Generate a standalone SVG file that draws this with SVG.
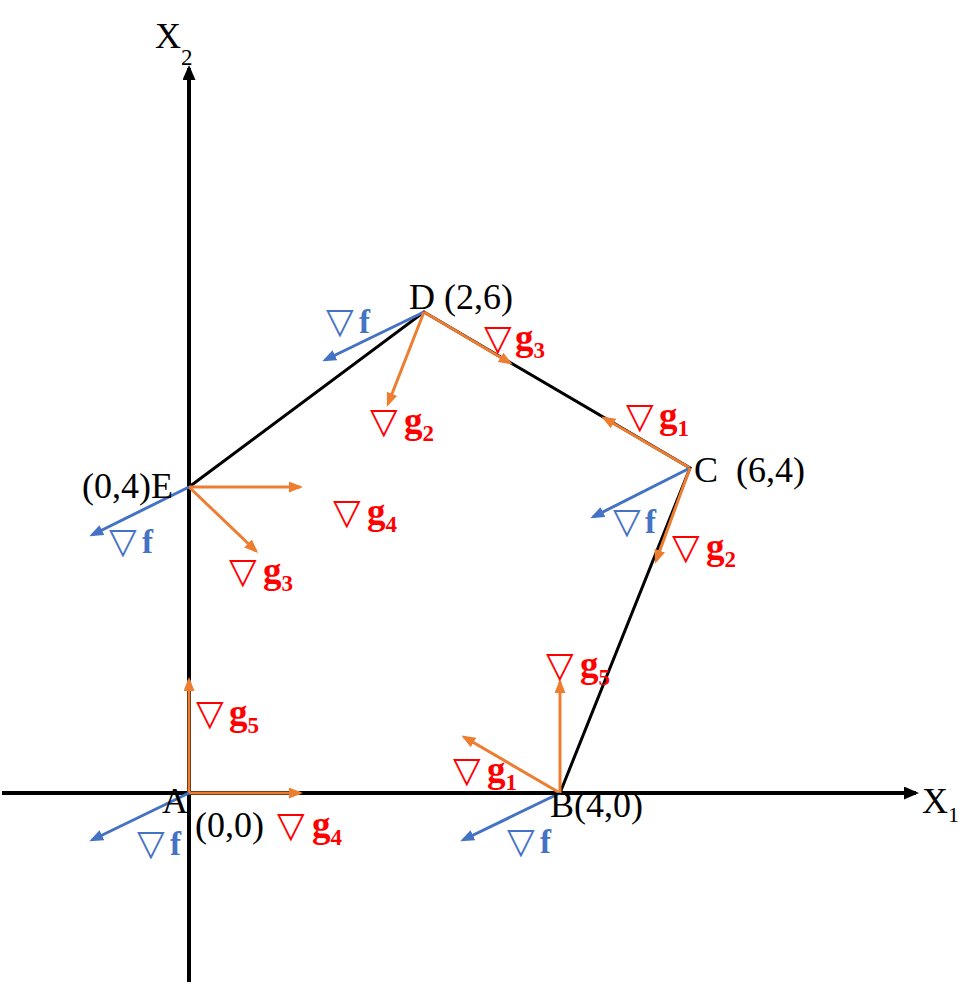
<svg xmlns="http://www.w3.org/2000/svg" width="978" height="986" viewBox="0 0 978 986">
<style>
.ax{stroke:#000;stroke-width:4;fill:none}
.edge{stroke:#000;stroke-width:3;fill:none}
.g{stroke:#ED7D31;stroke-width:3;fill:none;marker-end:url(#mo)}
.f{stroke:#4472C4;stroke-width:3;fill:none;marker-end:url(#mb)}
.t{font-family:"Liberation Serif","Times New Roman",serif;font-size:36px;fill:#000}
.nab{font-family:"DejaVu Sans",sans-serif;font-size:36px}
.lr{fill:#FF0000}
.lb{fill:#4472C4}
.bg{font-family:"Liberation Serif","Times New Roman",serif;font-weight:bold;font-size:37px}
.bf{font-family:"Liberation Serif","Times New Roman",serif;font-weight:bold;font-size:33px}
.sub{font-family:"Liberation Serif","Times New Roman",serif;font-weight:bold;font-size:23px}
</style>
<defs>
<marker id="mo" markerUnits="userSpaceOnUse" markerWidth="15" markerHeight="12" refX="11" refY="5.5" orient="auto"><path d="M0,0 L14,5.5 L0,11 z" fill="#ED7D31"/></marker>
<marker id="mb" markerUnits="userSpaceOnUse" markerWidth="15" markerHeight="12" refX="11" refY="5.5" orient="auto"><path d="M0,0 L14,5.5 L0,11 z" fill="#4472C4"/></marker>
<marker id="mk" markerUnits="userSpaceOnUse" markerWidth="16" markerHeight="14" refX="12" refY="6.5" orient="auto"><path d="M0,0 L15,6.5 L0,13 z" fill="#000"/></marker>
</defs>
<rect width="978" height="986" fill="#fff"/>
<g id="axes">
<line class="ax" x1="189" y1="982" x2="189" y2="68" marker-end="url(#mk)"/>
<line class="ax" x1="2" y1="793" x2="916" y2="793" marker-end="url(#mk)"/>
<text class="t" x="155" y="48" font-size="37">X<tspan font-size="23" dy="17">2</tspan></text>
<text class="t" x="922" y="813" font-size="37">X<tspan font-size="22" dy="9">1</tspan></text>
</g>
<g id="polygon">
<polyline class="edge" points="189,487 424,312 690,468 560,793"/>
</g>
<g id="connectors">
<line class="f" x1="424" y1="312" x2="325" y2="360"/>
<line class="g" x1="424" y1="312" x2="388" y2="404"/>
<line class="g" x1="424" y1="312" x2="510" y2="363"/>
<line class="g" x1="690" y1="468" x2="604" y2="418"/>
<line class="f" x1="690" y1="468" x2="593" y2="517"/>
<line class="g" x1="690" y1="468" x2="656" y2="561"/>
<line class="g" x1="189" y1="487" x2="300" y2="487"/>
<line class="g" x1="189" y1="487" x2="256" y2="551"/>
<line class="f" x1="189" y1="487" x2="92" y2="535"/>
<line class="g" x1="189" y1="793" x2="189" y2="680"/>
<line class="g" x1="189" y1="793" x2="300" y2="793"/>
<line class="f" x1="189" y1="793" x2="92" y2="840"/>
<line class="g" x1="560" y1="793" x2="560" y2="682"/>
<line class="g" x1="560" y1="793" x2="464" y2="737"/>
<line class="f" x1="560" y1="793" x2="463" y2="840"/>
</g>
<g id="node-D">
<text class="t" x="409" y="309">D (2,6)</text>
<text x="326" y="333"><tspan class="nab lb">▽</tspan><tspan class="bf lb" x="359">f</tspan></text>
<text x="484" y="350"><tspan class="nab lr">▽</tspan><tspan class="bg lr" x="515">g</tspan><tspan class="sub lr" dy="8">3</tspan></text>
<text x="370" y="433"><tspan class="nab lr">▽</tspan><tspan class="bg lr" x="404">g</tspan><tspan class="sub lr" dy="8">2</tspan></text>
</g>
<g id="node-C">
<text class="t" x="694" y="482" xml:space="preserve">C  (6,4)</text>
<text x="626" y="428"><tspan class="nab lr">▽</tspan><tspan class="bg lr" x="659">g</tspan><tspan class="sub lr" dy="8">1</tspan></text>
<text x="613" y="533"><tspan class="nab lb">▽</tspan><tspan class="bf lb" x="645">f</tspan></text>
<text x="672" y="559"><tspan class="nab lr">▽</tspan><tspan class="bg lr" x="706">g</tspan><tspan class="sub lr" dy="8">2</tspan></text>
</g>
<g id="node-E">
<text class="t" x="82" y="498">(0,4)E</text>
<text x="109" y="553"><tspan class="nab lb">▽</tspan><tspan class="bf lb" x="142">f</tspan></text>
<text x="333" y="524"><tspan class="nab lr">▽</tspan><tspan class="bg lr" x="367">g</tspan><tspan class="sub lr" dy="8">4</tspan></text>
<text x="229" y="583"><tspan class="nab lr">▽</tspan><tspan class="bg lr" x="263">g</tspan><tspan class="sub lr" dy="8">3</tspan></text>
</g>
<g id="node-A">
<text class="t" x="162" y="813">A</text>
<text class="t" x="195" y="837">(0,0)</text>
<text x="196" y="725"><tspan class="nab lr">▽</tspan><tspan class="bg lr" x="229">g</tspan><tspan class="sub lr" dy="8">5</tspan></text>
<text x="277" y="837"><tspan class="nab lr">▽</tspan><tspan class="bg lr" x="312">g</tspan><tspan class="sub lr" dy="8">4</tspan></text>
<text x="137" y="855"><tspan class="nab lb">▽</tspan><tspan class="bf lb" x="170">f</tspan></text>
</g>
<g id="node-B">
<text class="t" x="550" y="817">B(4,0)</text>
<text x="546" y="677"><tspan class="nab lr">▽</tspan><tspan class="bg lr" x="580">g</tspan><tspan class="sub lr" dy="8">5</tspan></text>
<text x="453" y="782"><tspan class="nab lr">▽</tspan><tspan class="bg lr" x="487">g</tspan><tspan class="sub lr" dy="8">1</tspan></text>
<text x="507" y="853"><tspan class="nab lb">▽</tspan><tspan class="bf lb" x="540">f</tspan></text>
</g>
</svg>
